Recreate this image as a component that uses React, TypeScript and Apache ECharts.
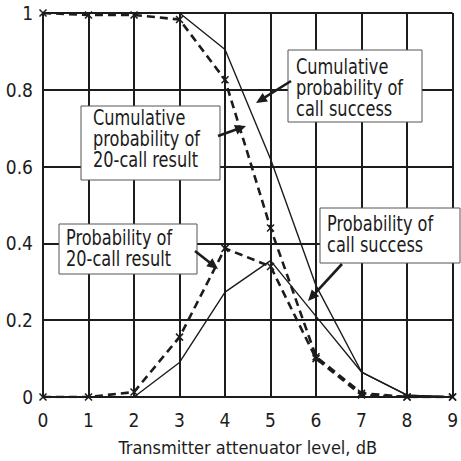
import React, { useEffect, useRef } from "react";
import * as echarts from "echarts";

const levels = [0, 1, 2, 3, 4, 5, 6, 7, 8, 9];
const cumCallSuccess = [1, 1, 1, 1, 0.905, 0.62, 0.29, 0.065, 0.005, 0];
const cum20Call = [1, 0.995, 0.995, 0.983, 0.826, 0.44, 0.105, 0.01, 0, 0];
const prob20Call = [0, 0, 0.013, 0.156, 0.387, 0.34, 0.1, 0.005, 0, 0];
const probCallSuccess = [0, 0, 0, 0.09, 0.273, 0.355, 0.21, 0.065, 0.005, 0];
const xAxisName = "Transmitter attenuator level, dB";

const FONT = "'Liberation Sans Narrow', 'DejaVu Sans Condensed', 'Roboto', sans-serif";
const INK = "#1c1c1c";

const pairs = (ys: number[]) => levels.map((x, i) => [x, ys[i]]);

function arrow(x1: number, y1: number, x2: number, y2: number) {
  const dx = x2 - x1;
  const dy = y2 - y1;
  const len = Math.sqrt(dx * dx + dy * dy);
  const ux = dx / len;
  const uy = dy / len;
  const headL = 11;
  const headW = 5;
  const bx = x2 - ux * headL;
  const by = y2 - uy * headL;
  return [
    {
      type: "line",
      z: 20,
      shape: { x1, y1, x2: bx + ux * 2, y2: by + uy * 2 },
      style: { stroke: INK, lineWidth: 2.6 },
    },
    {
      type: "polygon",
      z: 20,
      shape: {
        points: [
          [x2, y2],
          [bx - uy * headW, by + ux * headW],
          [bx + uy * headW, by - ux * headW],
        ],
      },
      style: { fill: INK },
    },
  ];
}

function box(x: number, y: number, w: number, h: number, tx: number, ty: number, text: string) {
  return [
    {
      type: "rect",
      z: 15,
      shape: { x, y, width: w, height: h },
      style: { fill: "#fff", stroke: "#555", lineWidth: 1 },
    },
    {
      type: "text",
      z: 16,
      x: tx,
      y: ty,
      scaleY: 1.18,
      style: {
        text,
        fontFamily: FONT,
        fontSize: 18,
        lineHeight: 18,
        fill: INK,
        textAlign: "left",
        textVerticalAlign: "top",
      },
    },
  ];
}

const crossSymbol = "path://M0,0L10,10M10,0L0,10";

export default function App() {
  const ref = useRef<HTMLDivElement>(null);
  useEffect(() => {
    if (!ref.current) return;
    const chart = echarts.init(ref.current, undefined, { renderer: "svg" });
    const solid = { type: "line", symbol: "none", lineStyle: { color: INK, width: 1.4 }, z: 5 };
    const dashed = {
      type: "line",
      symbol: crossSymbol,
      symbolSize: 7,
      itemStyle: { color: "none", borderColor: INK, borderWidth: 1.5 },
      lineStyle: { color: INK, width: 2.6, type: [8, 5] },
      z: 6,
    };
    chart.setOption({
      animation: false,
      backgroundColor: "#fff",
      grid: { left: 43, top: 13, width: 420, height: 385 },
      xAxis: {
        type: "value",
        min: 0,
        max: 9,
        interval: 1,
        name: xAxisName,
        nameLocation: "middle",
        nameGap: 41,
        nameTextStyle: { fontFamily: FONT, fontSize: 18, color: INK },
        axisLine: { show: true, lineStyle: { color: INK, width: 2 } },
        axisTick: { show: false },
        axisLabel: { fontFamily: FONT, fontSize: 19, color: INK, margin: 13 },
        splitLine: { show: true, lineStyle: { color: INK, width: 2 } },
      },
      yAxis: {
        type: "value",
        min: 0,
        max: 1,
        interval: 0.2,
        axisLine: { show: true, lineStyle: { color: INK, width: 2 } },
        axisTick: { show: false },
        axisLabel: { fontFamily: FONT, fontSize: 19, color: INK, margin: 10 },
        splitLine: { show: true, lineStyle: { color: INK, width: 2 } },
      },
      series: [
        { ...solid, name: "Cumulative probability of call success", data: pairs(cumCallSuccess) },
        { ...solid, name: "Probability of call success", data: pairs(probCallSuccess) },
        { ...dashed, name: "Cumulative probability of 20-call result", data: pairs(cum20Call) },
        { ...dashed, name: "Probability of 20-call result", data: pairs(prob20Call) },
      ],
      graphic: [
        ...box(81, 106, 139, 74, 93, 107, "Cumulative\nprobability of\n20-call result"),
        ...arrow(218, 136, 246, 126),
        ...box(288, 50, 134, 72, 296, 56, "Cumulative\nprobability of\ncall success"),
        ...arrow(291, 81, 256, 103),
        ...box(59, 224, 138, 50, 66, 227, "Probability of\n20-call result"),
        ...arrow(195, 251, 218, 269),
        ...box(320, 208, 140, 55, 327, 213, "Probability of\ncall success"),
        ...arrow(342, 264, 308, 301),
      ],
    });
    return () => chart.dispose();
  }, []);
  return (
    <div
      ref={ref}
      style={{ position: "absolute", left: 0, top: 0, width: 461, height: 461, overflow: "hidden" }}
    />
  );
}
